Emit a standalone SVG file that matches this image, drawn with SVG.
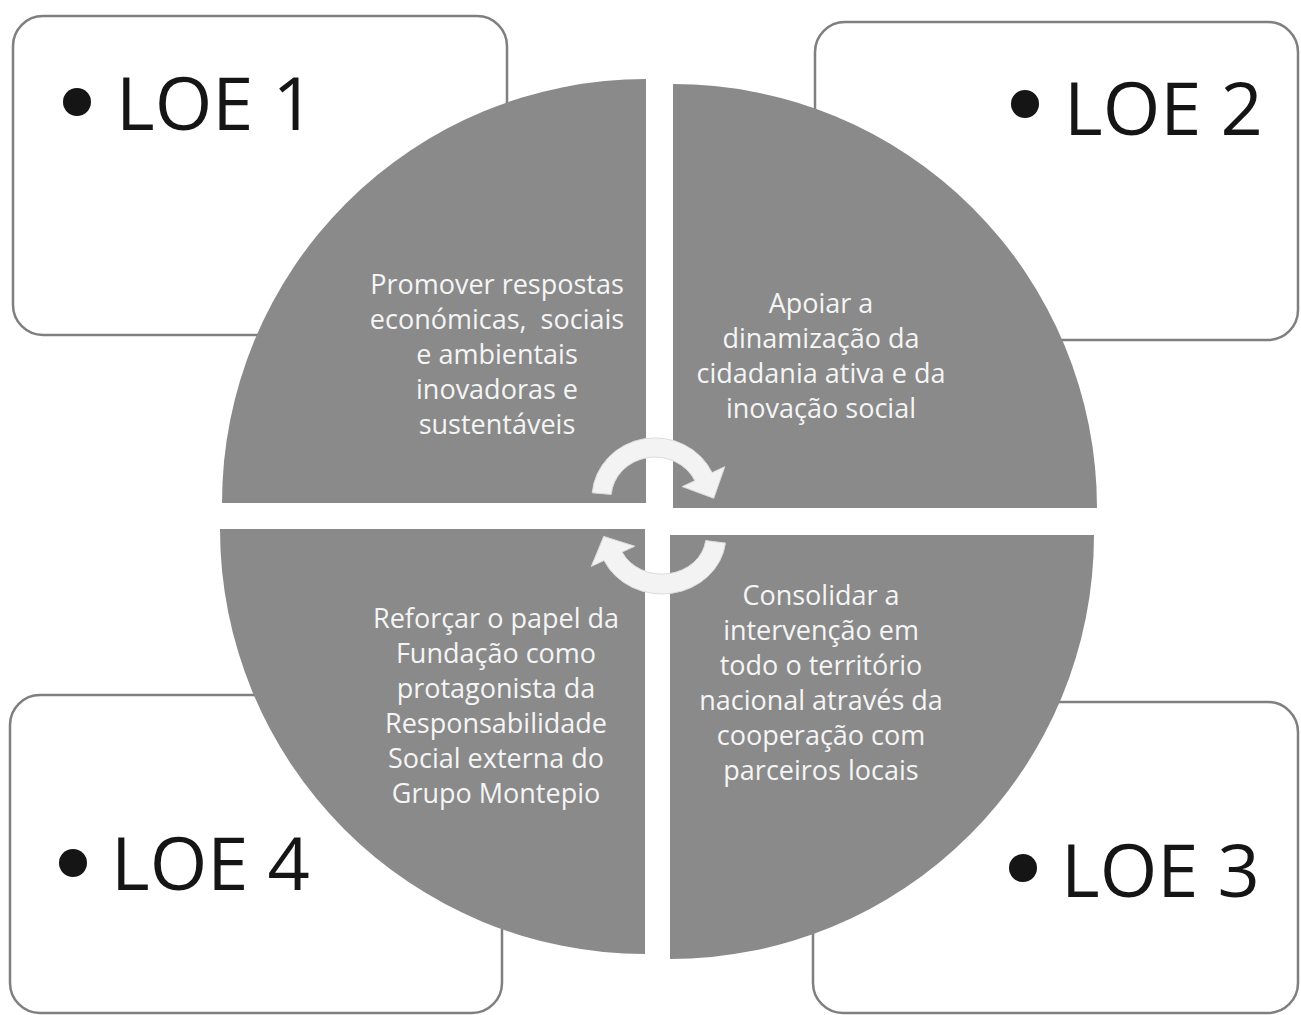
<svg xmlns="http://www.w3.org/2000/svg" width="1301" height="1015" viewBox="0 0 1301 1015">
  <style>
    .box { fill: #ffffff; stroke: #7f7f7f; stroke-width: 2.5; }
    .quad { fill: #8a8a8a; }
    .loe { font-family: "Open Sans", "Liberation Sans", sans-serif; font-size: 74px; fill: #151515; }
    .bullet { fill: #151515; }
    .qt { font-family: "Open Sans", "Liberation Sans", sans-serif; font-size: 27px; fill: #f5f5f5; text-anchor: middle; white-space: pre; }
    .arrow { fill: #f3f3f3; stroke: #dcdcdc; stroke-width: 1; }
  </style>
  <rect width="1301" height="1015" fill="#ffffff"/>

  <g id="loe1">
    <rect class="box" x="13" y="16" width="494" height="319" rx="30"/>
    <circle class="bullet" cx="77" cy="102" r="14"/>
    <text class="loe" x="116" y="130">LOE 1</text>
  </g>
  <g id="loe2">
    <rect class="box" x="815" y="22" width="483" height="318" rx="30"/>
    <circle class="bullet" cx="1025" cy="104" r="14"/>
    <text class="loe" x="1064" y="135">LOE 2</text>
  </g>
  <g id="loe4">
    <rect class="box" x="10" y="695" width="492" height="318" rx="30"/>
    <circle class="bullet" cx="73" cy="863" r="14"/>
    <text class="loe" x="111" y="890">LOE 4</text>
  </g>
  <g id="loe3">
    <rect class="box" x="813" y="702" width="485" height="311" rx="30"/>
    <circle class="bullet" cx="1023" cy="868" r="14"/>
    <text class="loe" x="1061" y="897">LOE 3</text>
  </g>

  <g id="quadrant-tl">
    <path class="quad" d="M 646,503 L 222,503 A 424 424 0 0 1 646,79 Z"/>
    <text class="qt" x="497" y="294">Promover respostas</text>
    <text class="qt" x="497" y="329">económicas,  sociais</text>
    <text class="qt" x="497" y="364">e ambientais</text>
    <text class="qt" x="497" y="399">inovadoras e</text>
    <text class="qt" x="497" y="434">sustentáveis</text>
  </g>
  <g id="quadrant-tr">
    <path class="quad" d="M 673,508 L 673,84 A 424 424 0 0 1 1097,508 Z"/>
    <text class="qt" x="821" y="313">Apoiar a</text>
    <text class="qt" x="821" y="348">dinamização da</text>
    <text class="qt" x="821" y="383">cidadania ativa e da</text>
    <text class="qt" x="821" y="418">inovação social</text>
  </g>
  <g id="quadrant-bl">
    <path class="quad" d="M 645,529 L 645,954 A 425 425 0 0 1 220,529 Z"/>
    <text class="qt" x="496" y="628">Reforçar o papel da</text>
    <text class="qt" x="496" y="663">Fundação como</text>
    <text class="qt" x="496" y="698">protagonista da</text>
    <text class="qt" x="496" y="733">Responsabilidade</text>
    <text class="qt" x="496" y="768">Social externa do</text>
    <text class="qt" x="496" y="803">Grupo Montepio</text>
  </g>
  <g id="quadrant-br">
    <path class="quad" d="M 670,535 L 1094,535 A 424 424 0 0 1 670,959 Z"/>
    <text class="qt" x="821" y="605">Consolidar a</text>
    <text class="qt" x="821" y="640">intervenção em</text>
    <text class="qt" x="821" y="675">todo o território</text>
    <text class="qt" x="821" y="710">nacional através da</text>
    <text class="qt" x="821" y="745">cooperação com</text>
    <text class="qt" x="821" y="780">parceiros locais</text>
  </g>

  <g id="connectors">
    <path class="arrow" d="M 592.2,492.8 A 63 60 0 0 1 712.1,472.6 L 724.8,466.7 L 713.7,498.3 L 682.2,486.6 L 694.9,480.7 A 44 41 0 0 0 611.2,494.4 Z"/>
    <path class="arrow" d="M 725.5,543.1 A 64 58 0 0 1 604.0,560.5 L 591.3,566.4 L 603.7,536.4 L 634.8,546.2 L 622.1,552.1 A 44 38 0 0 0 705.7,540.6 Z"/>
  </g>
</svg>
